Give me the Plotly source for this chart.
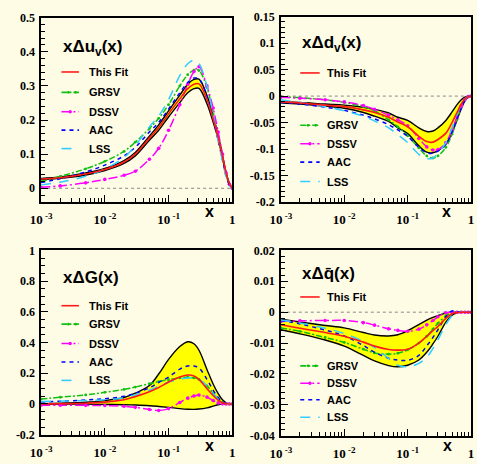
import plotly.graph_objects as go

W, H = 477, 464

# ---------------- data ----------------
X = [0.001, 0.002, 0.005, 0.01, 0.02, 0.03, 0.05, 0.07, 0.1, 0.15,
     0.2, 0.25, 0.3, 0.4, 0.5, 0.6, 0.7, 0.8, 0.9, 1.0]

SERIES = ["This Fit", "GRSV", "DSSV", "AAC", "LSS"]

# x * Delta u_v
UV_FIT = [0.027, 0.031, 0.042, 0.055, 0.077, 0.100, 0.147, 0.178, 0.218, 0.262,
          0.292, 0.305, 0.306, 0.260, 0.203, 0.150, 0.094, 0.044, 0.014, 0.0]
UV_HI = [0.029, 0.033, 0.045, 0.058, 0.081, 0.105, 0.153, 0.186, 0.227, 0.273,
         0.305, 0.319, 0.320, 0.272, 0.212, 0.156, 0.098, 0.046, 0.015, 0.0]
UV_LO = [0.025, 0.029, 0.039, 0.052, 0.073, 0.095, 0.141, 0.170, 0.209, 0.251,
         0.280, 0.292, 0.293, 0.248, 0.194, 0.144, 0.090, 0.042, 0.013, 0.0]
UV_GRSV = [0.020, 0.035, 0.057, 0.079, 0.108, 0.135, 0.175, 0.205, 0.245, 0.300,
           0.333, 0.346, 0.345, 0.295, 0.218, 0.148, 0.088, 0.040, 0.010, 0.0]
UV_DSSV = [0.003, 0.007, 0.016, 0.026, 0.038, 0.050, 0.085, 0.117, 0.170, 0.245,
           0.305, 0.342, 0.356, 0.300, 0.235, 0.165, 0.100, 0.045, 0.012, 0.0]
UV_AAC = [0.017, 0.028, 0.048, 0.068, 0.095, 0.120, 0.165, 0.193, 0.232, 0.280,
          0.310, 0.323, 0.320, 0.270, 0.203, 0.140, 0.085, 0.038, 0.010, 0.0]
UV_LSS = [0.010, 0.018, 0.035, 0.057, 0.090, 0.125, 0.180, 0.212, 0.260, 0.330,
          0.365, 0.375, 0.365, 0.300, 0.215, 0.140, 0.080, 0.035, 0.008, 0.0]

# x * Delta d_v
DV_FIT = [-0.011, -0.013, -0.017, -0.020, -0.026, -0.031, -0.040, -0.049, -0.058, -0.076,
          -0.086, -0.087, -0.082, -0.070, -0.050, -0.031, -0.015, -0.005, -0.001, 0.0]
DV_HI = [-0.0105, -0.012, -0.015, -0.017, -0.021, -0.025, -0.032, -0.040, -0.046, -0.060,
         -0.067, -0.066, -0.060, -0.046, -0.030, -0.016, -0.007, -0.002, -0.0003, 0.0]
DV_LO = [-0.0125, -0.015, -0.019, -0.023, -0.031, -0.038, -0.048, -0.060, -0.071, -0.094,
         -0.106, -0.107, -0.103, -0.091, -0.070, -0.045, -0.024, -0.009, -0.002, 0.0]
DV_GRSV = [-0.001, -0.003, -0.007, -0.012, -0.020, -0.028, -0.045, -0.058, -0.075, -0.098,
           -0.113, -0.117, -0.113, -0.097, -0.072, -0.044, -0.021, -0.007, -0.001, 0.0]
DV_DSSV = [-0.002, -0.004, -0.007, -0.011, -0.018, -0.025, -0.036, -0.045, -0.056, -0.080,
           -0.096, -0.102, -0.101, -0.088, -0.064, -0.039, -0.019, -0.006, -0.001, 0.0]
DV_AAC = [-0.012, -0.015, -0.021, -0.027, -0.036, -0.043, -0.054, -0.064, -0.076, -0.097,
          -0.107, -0.108, -0.104, -0.091, -0.068, -0.043, -0.022, -0.008, -0.001, 0.0]
DV_LSS = [-0.007, -0.012, -0.020, -0.028, -0.038, -0.047, -0.060, -0.073, -0.088, -0.110,
          -0.118, -0.117, -0.108, -0.088, -0.060, -0.035, -0.016, -0.005, -0.001, 0.0]

# x * Delta G
G_FIT = [0.001, 0.002, 0.005, 0.012, 0.027, 0.048, 0.080, 0.107, 0.143, 0.175,
         0.189, 0.183, 0.160, 0.100, 0.055, 0.025, 0.008, 0.002, 0.0, 0.0]
G_HI = [0.002, 0.005, 0.011, 0.022, 0.042, 0.070, 0.120, 0.195, 0.290, 0.374,
        0.405, 0.392, 0.350, 0.225, 0.130, 0.068, 0.027, 0.008, 0.001, 0.0]
G_LO = [0.0, 0.0, -0.001, -0.003, -0.005, -0.007, -0.011, -0.016, -0.022, -0.030,
        -0.034, -0.035, -0.033, -0.025, -0.014, -0.005, -0.001, 0.0, 0.0, 0.0]
G_GRSV = [0.032, 0.044, 0.059, 0.076, 0.095, 0.110, 0.132, 0.146, 0.158, 0.170,
          0.174, 0.170, 0.160, 0.118, 0.070, 0.033, 0.012, 0.003, 0.0, 0.0]
G_DSSV = [-0.008, -0.008, -0.009, -0.010, -0.015, -0.022, -0.036, -0.042, -0.030, 0.010,
          0.038, 0.052, 0.058, 0.045, 0.022, 0.007, 0.001, 0.0, 0.0, 0.0]
G_AAC = [0.013, 0.018, 0.026, 0.034, 0.050, 0.070, 0.105, 0.140, 0.175, 0.227,
         0.248, 0.248, 0.235, 0.160, 0.090, 0.042, 0.014, 0.003, 0.0, 0.0]
G_LSS = [0.017, 0.019, 0.023, 0.027, 0.040, 0.059, 0.090, 0.115, 0.143, 0.162,
         0.170, 0.168, 0.160, 0.120, 0.070, 0.030, 0.010, 0.002, 0.0, 0.0]

# x * Delta qbar
Q_FIT = [-0.0041, -0.0052, -0.0066, -0.0078, -0.0097, -0.0110, -0.0121, -0.0123, -0.0120, -0.0100,
         -0.0078, -0.0060, -0.0046, -0.0020, -0.0005, -0.0001, 0.0, 0.0, 0.0, 0.0]
Q_HI = [-0.0023, -0.0032, -0.0043, -0.0051, -0.0066, -0.0074, -0.0077, -0.0073, -0.0060, -0.0040,
        -0.0026, -0.0017, -0.0011, -0.0003, 0.0, 0.0, 0.0, 0.0, 0.0, 0.0]
Q_LO = [-0.0057, -0.0070, -0.0090, -0.0110, -0.0140, -0.0158, -0.0173, -0.0177, -0.0172, -0.0155,
        -0.0130, -0.0103, -0.0078, -0.0032, -0.0010, -0.0002, 0.0, 0.0, 0.0, 0.0]
Q_GRSV = [-0.0051, -0.0062, -0.0082, -0.0098, -0.0120, -0.0132, -0.0136, -0.0133, -0.0122, -0.0100,
          -0.0078, -0.0055, -0.0036, -0.0012, -0.0002, 0.0, 0.0, 0.0, 0.0, 0.0]
Q_DSSV = [-0.0030, -0.0028, -0.0027, -0.0027, -0.0034, -0.0042, -0.0054, -0.0059, -0.0062, -0.0055,
          -0.0041, -0.0027, -0.0015, -0.0002, 0.0, 0.0, 0.0, 0.0, 0.0, 0.0]
Q_AAC = [-0.0027, -0.0038, -0.0058, -0.0077, -0.0108, -0.0130, -0.0149, -0.0155, -0.0156, -0.0140,
         -0.0109, -0.0082, -0.0057, -0.0015, 0.0004, 0.0002, 0.0, 0.0, 0.0, 0.0]
Q_LSS = [-0.0025, -0.0035, -0.0052, -0.0069, -0.0095, -0.0114, -0.0150, -0.0172, -0.0177, -0.0166,
         -0.0146, -0.0118, -0.0090, -0.0040, -0.0012, -0.0002, 0.0, 0.0, 0.0, 0.0]

X_TICKS = [0.001, 0.01, 0.1, 1]
X_TICK_TEXT = ["10<sup>\u00a0-3</sup>", "10<sup>\u00a0-2</sup>", "10<sup>\u00a0-1</sup>", "1"]

# ---------------- styling ----------------
BG = "#FFFCE6"
SANS = "Liberation Sans"
SERIF = "Liberation Serif"

STYLE = {
    "This Fit": dict(color="#FF1A1A", dash="solid", marker=0),
    "GRSV": dict(color="#10C010", dash="6px,2px,2px,2px", marker=2.8),
    "DSSV": dict(color="#FF00FF", dash="9px,3px,2px,3px", marker=3.6),
    "AAC": dict(color="#0000FF", dash="4px,4px", marker=0),
    "LSS": dict(color="#33CCFF", dash="10px,8px", marker=0),
}


def px(xp):
    return xp / W


def py(yp):
    return 1 - yp / H


PANELS = [
    dict(title="x\u0394u<sub>v</sub>(x)", fit=UV_FIT, hi=UV_HI, lo=UV_LO,
         models=[UV_GRSV, UV_DSSV, UV_AAC, UV_LSS],
         box=(31, 228, 11, 201), yrange=[-0.04, 0.5],
         yticks=[0, 0.1, 0.2, 0.3, 0.4, 0.5], ylabels=["0", "0.1", "0.2", "0.3", "0.4", "0.5"],
         yminor=0.02,
         title_pos=(52, 42), rows=[67, 88, 108, 127, 146], sample=(52, 70), text_x=78,
         xlab=(204, 211)),
    dict(title="x\u0394d<sub>v</sub>(x)", fit=DV_FIT, hi=DV_HI, lo=DV_LO,
         models=[DV_GRSV, DV_DSSV, DV_AAC, DV_LSS],
         box=(278, 474, 10, 201), yrange=[-0.2, 0.15],
         yticks=[-0.2, -0.15, -0.1, -0.05, 0, 0.05, 0.1, 0.15],
         ylabels=["-0.2", "-0.15", "-0.1", "-0.05", "0", "0.05", "0.1", "0.15"],
         yminor=0.01,
         title_pos=(298, 38), rows=[68, 122, 141, 160, 180], sample=(298, 318), text_x=324,
         xlab=(449, 211)),
    dict(title="x\u0394G(x)", fit=G_FIT, hi=G_HI, lo=G_LO,
         models=[G_GRSV, G_DSSV, G_AAC, G_LSS],
         box=(31, 228, 251, 441), yrange=[-0.2, 1.0],
         yticks=[-0.2, 0, 0.2, 0.4, 0.6, 0.8, 1.0],
         ylabels=["-0.2", "0", "0.2", "0.4", "0.6", "0.8", "1"],
         yminor=0.05,
         title_pos=(52, 279), rows=[308, 327, 347, 366, 385], sample=(52, 70), text_x=78,
         xlab=(204, 452)),
    dict(title="x\u0394q\u0304(x)", fit=Q_FIT, hi=Q_HI, lo=Q_LO,
         models=[Q_GRSV, Q_DSSV, Q_AAC, Q_LSS],
         box=(278, 474, 251, 442), yrange=[-0.04, 0.02],
         yticks=[-0.04, -0.03, -0.02, -0.01, 0, 0.01, 0.02],
         ylabels=["-0.04", "-0.03", "-0.02", "-0.01", "0", "0.01", "0.02"],
         yminor=0.002,
         title_pos=(298, 275), rows=[299, 370, 388, 405, 423], sample=(298, 318), text_x=324,
         xlab=(450, 452)),
]

MINOR_X = [k * 10.0 ** e for e in (-3, -2, -1) for k in range(2, 10)]


def bold(size, family=SANS):
    return dict(family=family, size=size, color="black", weight="bold")


fig = go.Figure()
shapes = []
annotations = []
layout_axes = {}

for i, p in enumerate(PANELS, start=1):
    xa = "x" if i == 1 else f"x{i}"
    ya = "y" if i == 1 else f"y{i}"
    x0, x1, y0, y1 = p["box"]

    # error band: lower edge, then upper edge filled down to it
    fig.add_trace(go.Scatter(x=X, y=p["lo"], mode="lines", xaxis=xa, yaxis=ya,
                             line=dict(color="black", width=1.4, shape="spline"),
                             showlegend=False, hoverinfo="skip"))
    fig.add_trace(go.Scatter(x=X, y=p["hi"], mode="lines", xaxis=xa, yaxis=ya,
                             fill="tonexty", fillcolor="#FFFF00",
                             line=dict(color="black", width=1.4, shape="spline"),
                             showlegend=False, hoverinfo="skip"))

    # model curves
    for name, ys in zip(SERIES[1:], p["models"]):
        st = STYLE[name]
        fig.add_trace(go.Scatter(
            x=X, y=ys, xaxis=xa, yaxis=ya, name=name, showlegend=False,
            mode="lines+markers" if st["marker"] else "lines",
            line=dict(color=st["color"], width=1.5, dash=st["dash"], shape="spline"),
            marker=dict(size=st["marker"], color=st["color"]) if st["marker"] else None))

    # central fit
    st = STYLE["This Fit"]
    fig.add_trace(go.Scatter(x=X, y=p["fit"], mode="lines", xaxis=xa, yaxis=ya,
                             name="This Fit", showlegend=False,
                             line=dict(color=st["color"], width=1.6, shape="spline")))

    # axes
    xkey = "xaxis" if i == 1 else f"xaxis{i}"
    ykey = "yaxis" if i == 1 else f"yaxis{i}"
    layout_axes[xkey] = dict(
        type="log", range=[-3, 0], domain=[px(x0), px(x1)], anchor=ya,
        showline=True, linecolor="black", linewidth=1.6, mirror=True,
        ticks="inside", ticklen=7, tickwidth=1, tickcolor="black",
        tickvals=X_TICKS, ticktext=X_TICK_TEXT,
        tickfont=bold(13, SERIF), ticklabelstandoff=5,
        showgrid=False, zeroline=False,
        minor=dict(ticks="inside", ticklen=4, tickwidth=1, tickcolor="black",
                   tickvals=MINOR_X, showgrid=False),
    )
    layout_axes[ykey] = dict(
        range=p["yrange"], domain=[py(y1), py(y0)], anchor=xa,
        showline=True, linecolor="black", linewidth=1.6, mirror=True,
        ticks="inside", ticklen=7, tickwidth=1, tickcolor="black",
        tickvals=p["yticks"], ticktext=p["ylabels"],
        tickfont=bold(12, SERIF), ticklabelstandoff=2,
        showgrid=False, zeroline=False,
        minor=dict(ticks="inside", ticklen=4, tickwidth=1, tickcolor="black",
                   dtick=p["yminor"], showgrid=False),
    )

    # dotted zero reference
    shapes.append(dict(type="line", xref=f"{xa} domain", yref=ya, x0=0, x1=1, y0=0, y1=0,
                       line=dict(color="#888888", width=1, dash="dot"), layer="below"))

    # panel title
    tx, ty = p["title_pos"]
    annotations.append(dict(text=p["title"], x=px(tx), y=py(ty), xref="paper",
                            yref="paper", xanchor="left", yanchor="middle", showarrow=False,
                            font=bold(17)))

    # legend built from the series names and styles
    sx0, sx1 = p["sample"]
    for name, ry in zip(SERIES, p["rows"]):
        st = STYLE[name]
        shapes.append(dict(type="line", xref="paper", yref="paper",
                           x0=px(sx0), x1=px(sx1), y0=py(ry), y1=py(ry),
                           line=dict(color=st["color"], width=1.6,
                                     dash=st["dash"])))
        if st["marker"]:
            r = st["marker"] / 2
            centers = [sx0 + (sx1 - sx0) * f for f in ((0.5,) if name == "DSSV" else (0.4, 0.8))]
            for cx in centers:
                shapes.append(dict(type="circle", xref="paper", yref="paper",
                                   x0=px(cx - r), x1=px(cx + r), y0=py(ry - r), y1=py(ry + r),
                                   fillcolor=st["color"], line=dict(width=0)))
        annotations.append(dict(text=name, x=px(p["text_x"]), y=py(ry),
                                xref="paper", yref="paper", xanchor="left", yanchor="middle",
                                showarrow=False, font=bold(11)))

    # axis title "x"
    lx, ly = p["xlab"]
    annotations.append(dict(text="x", x=px(lx), y=py(ly), xref="paper", yref="paper",
                            xanchor="center", yanchor="middle", showarrow=False,
                            font=bold(16)))

fig.update_layout(
    width=W, height=H, margin=dict(l=0, r=0, t=0, b=0),
    paper_bgcolor=BG, plot_bgcolor=BG, showlegend=False,
    shapes=shapes, annotations=annotations, **layout_axes,
)

fig.write_html("out.html")
